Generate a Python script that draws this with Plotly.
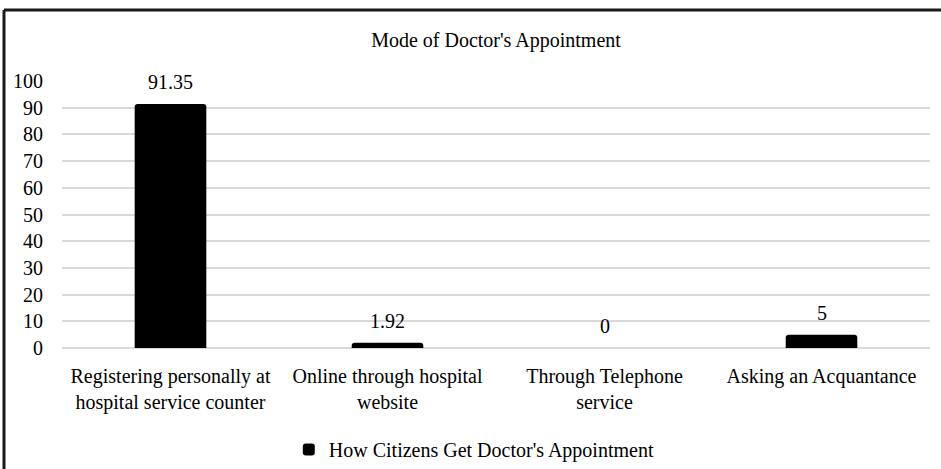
import plotly.graph_objects as go

categories = [
    "Registering personally at<br>hospital service counter",
    "Online through hospital<br>website",
    "Through Telephone<br>service",
    "Asking an Acquantance",
]
values = [91.35, 1.92, 0, 5]
value_labels = ["91.35", "1.92", "0", "5"]
series_name = "How Citizens Get Doctor's Appointment"
y_ticks = list(range(0, 101, 10))

FONT = "Liberation Serif"

fig = go.Figure()
fig.add_trace(go.Bar(
    name=series_name,
    x=categories,
    y=values,
    width=0.33,
    marker=dict(color="#000000", line=dict(width=0), cornerradius=3),
    showlegend=True,
))

# value labels sit a little above each bar
for cat, v, lab in zip(categories, values, value_labels):
    fig.add_annotation(
        x=cat, y=v, text=lab, showarrow=False,
        yanchor="bottom", yshift=9,
        font=dict(family=FONT, size=20, color="#000000"),
    )

# outer frame (left and top edges visible in the crop)
ml, mt, pw, ph = 62, 81, 868, 267
x_left = (4 - ml) / pw
y_top = 1 + (mt - 10) / ph
fig.add_shape(type="line", xref="paper", yref="paper",
              x0=x_left, x1=x_left, y0=y_top, y1=-1,
              line=dict(color="#1a1a1a", width=3))
fig.add_shape(type="line", xref="paper", yref="paper",
              x0=x_left, x1=1.2, y0=y_top, y1=y_top,
              line=dict(color="#1a1a1a", width=3))

fig.update_layout(
    width=941,
    height=469,
    margin=dict(l=ml, r=941 - ml - pw, t=mt, b=469 - mt - ph, autoexpand=False),
    paper_bgcolor="white",
    plot_bgcolor="white",
    font=dict(family=FONT, size=20, color="#000000"),
    title=dict(text="Mode of Doctor's Appointment", x=0.5, xref="paper",
               y=1 - 40 / 469, yanchor="middle",
               font=dict(family=FONT, size=20, color="#000000")),
    xaxis=dict(showgrid=False, showline=False, ticks="",
               tickfont=dict(family=FONT, size=20), ticklabelstandoff=14),
    yaxis=dict(range=[0, 100], tickvals=y_ticks, showgrid=True,
               gridcolor="#d9d9d9", gridwidth=1.5, zeroline=True,
               zerolinecolor="#d9d9d9", zerolinewidth=1.5,
               showline=False, ticks="", tickfont=dict(family=FONT, size=20),
               ticklabelstandoff=18),
    legend=dict(orientation="h", x=0.475, xanchor="center", y=-0.38,
                yanchor="middle", font=dict(family=FONT, size=20),
                itemwidth=30, tracegroupgap=0),
    bargap=0.67,
)

# drop the default page margin so the figure sits at the window's corner
fig.write_html("out.html", config={"displayModeBar": False},
               post_script="document.body.style.margin='0';")
